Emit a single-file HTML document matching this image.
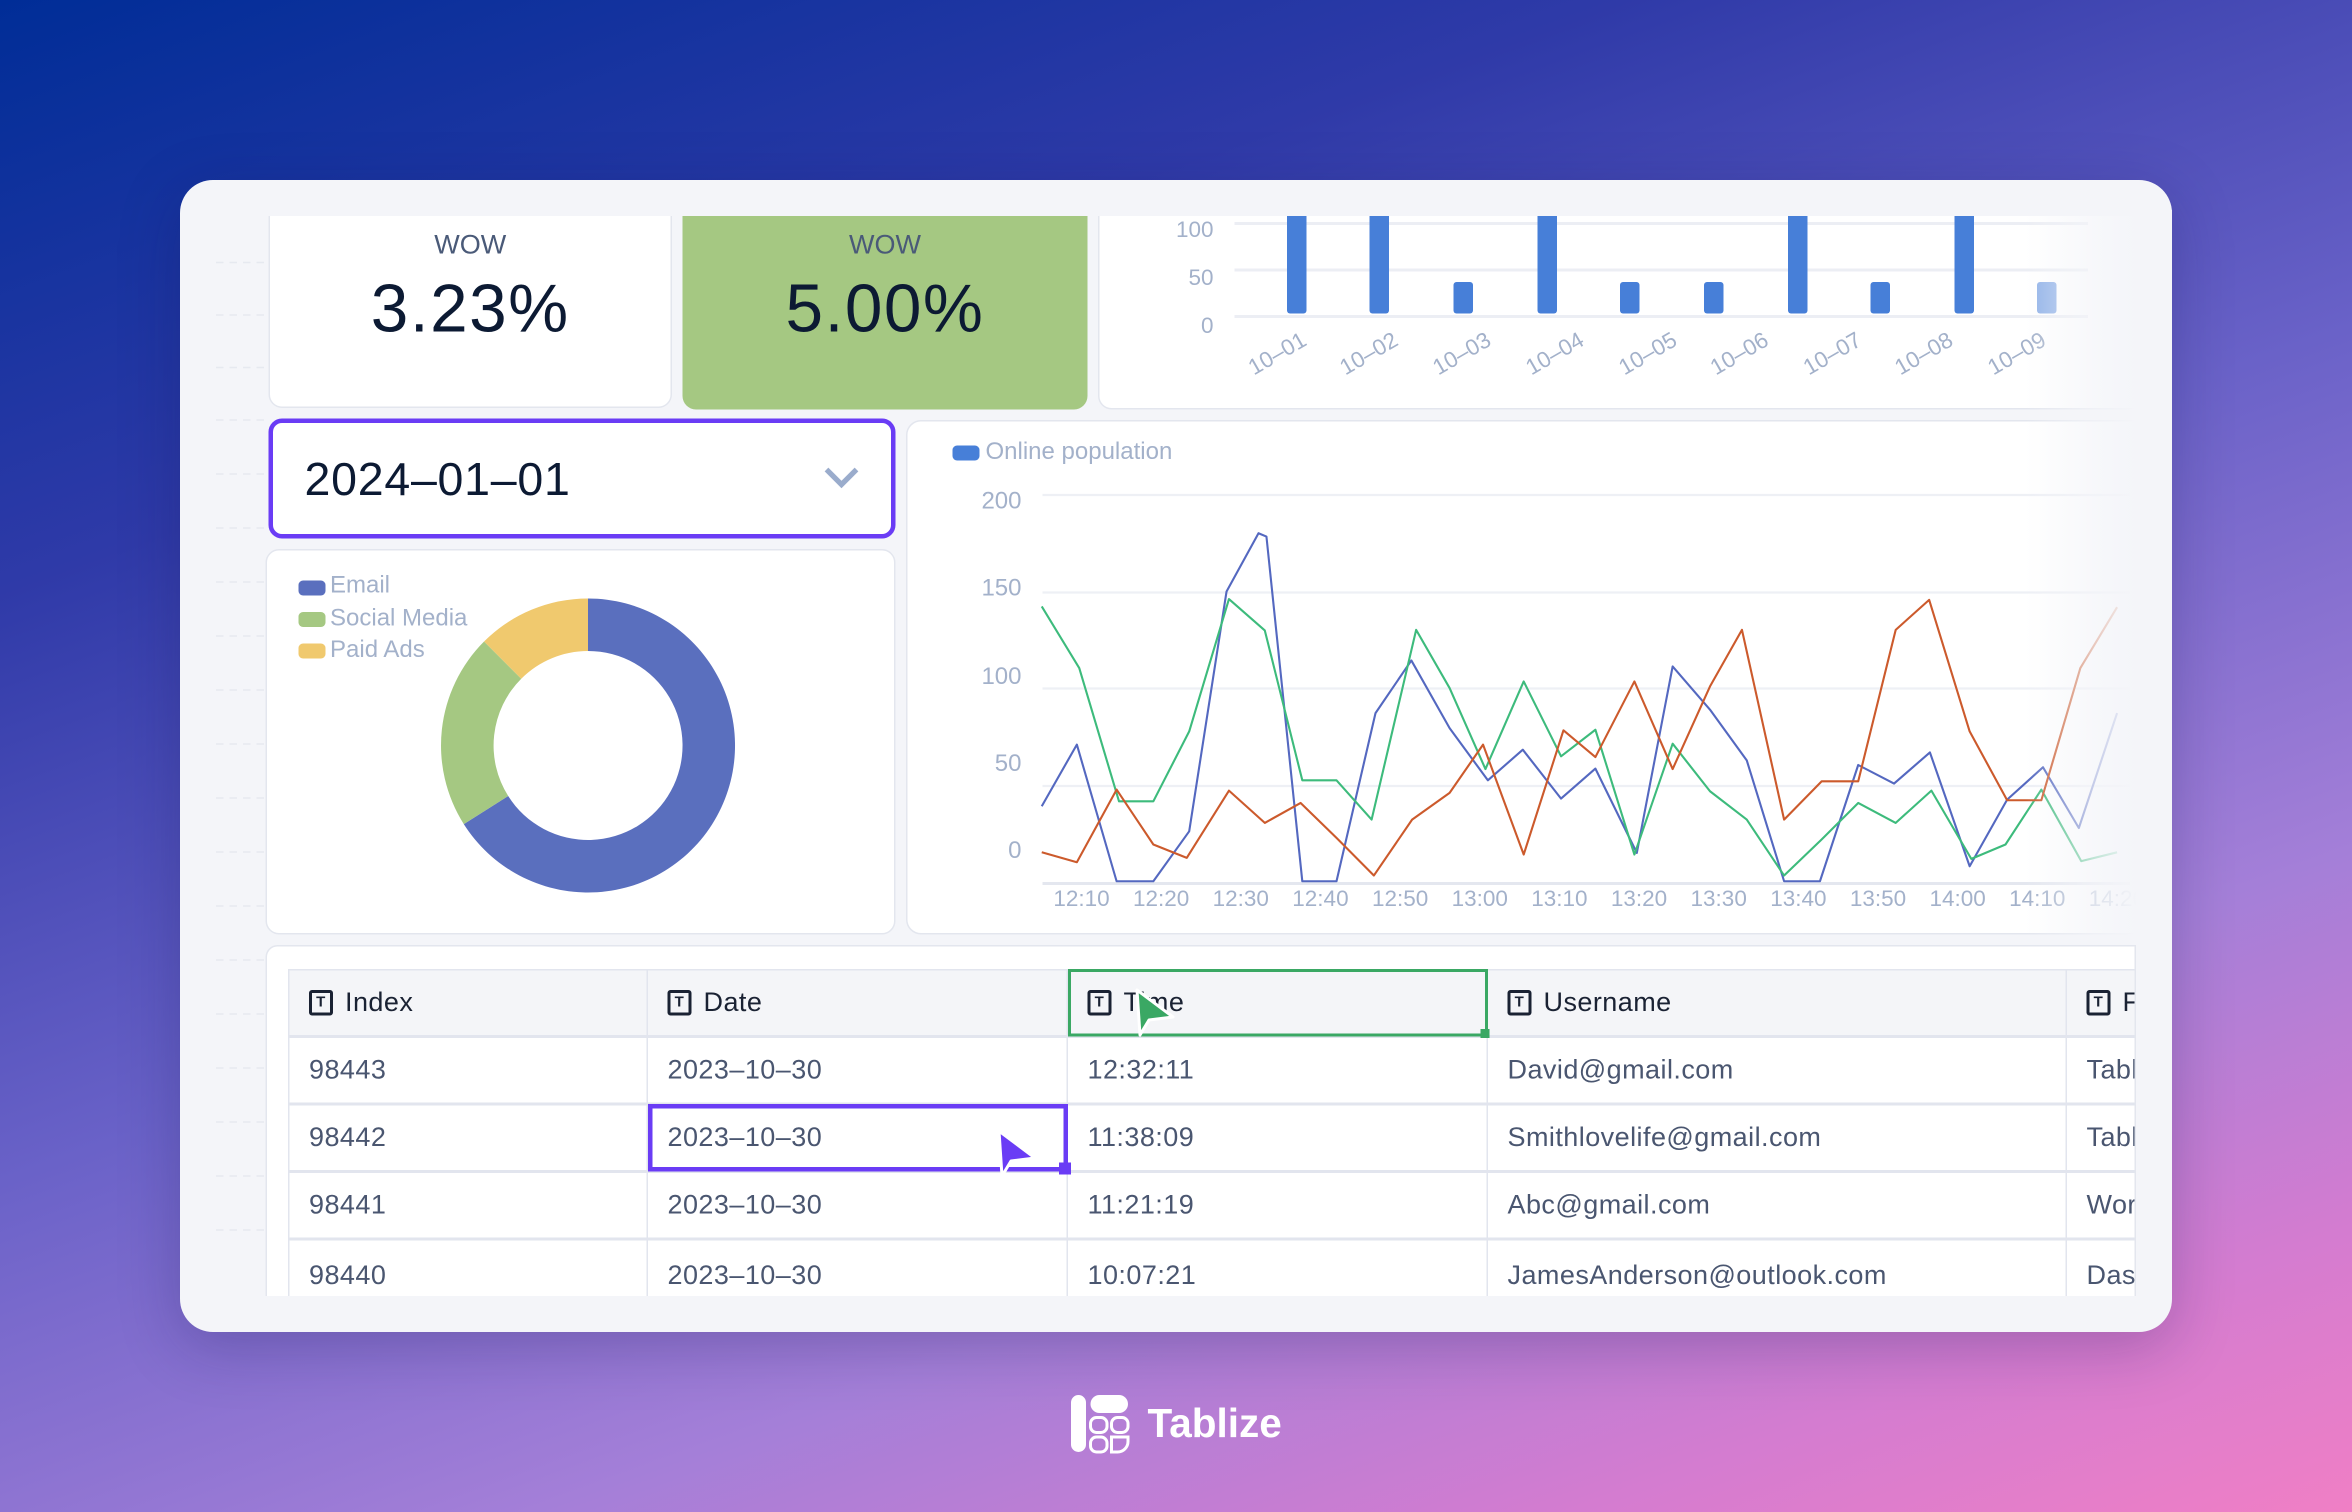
<!DOCTYPE html>
<html><head><meta charset="utf-8">
<style>
html,body{margin:0;padding:0;width:2352px;height:1512px;overflow:hidden}
body{font-family:"Liberation Sans",sans-serif}
#root{position:absolute;left:0;top:0;width:1568px;height:1008px;transform:scale(1.5);transform-origin:0 0;
background:linear-gradient(160deg,#002d97 0%,#2f3aa8 25%,#6a62c8 50%,#a47fd8 72%,#d47cd0 88%,#f07fc5 100%);overflow:hidden}
.abs{position:absolute}
.card{position:absolute;left:120px;top:120px;width:1328px;height:768px;background:#f4f5f9;border-radius:22px;box-shadow:0 10px 40px rgba(20,20,80,.25);overflow:hidden}
.w{position:absolute;background:#fff;border:1px solid #e3e6ee;box-sizing:border-box}
.lbl{color:#a3b1ca;font-size:15px;position:absolute;white-space:nowrap}
.cell{position:absolute;box-sizing:border-box;border-right:1px solid #e2e5ee;border-bottom:2px solid #e2e5ee;font-size:18px;color:#4a5670;padding-left:13px;display:flex;align-items:center;white-space:nowrap;overflow:hidden;letter-spacing:.3px}
.hd{background:#f4f5f8;color:#1a2233}
.ic{display:inline-block;width:12px;height:13px;border:2px solid #1a2233;border-radius:2px;margin-right:8px;font-size:10px;line-height:13px;text-align:center;font-weight:bold;box-sizing:content-box}
</style></head><body>
<div id="root">
<div class="card">
 <svg class="abs" style="left:0;top:0" width="60" height="768">
  <g stroke="#e6e9f0" stroke-dasharray="5 4" stroke-width="1">
   <line x1="24" y1="55" x2="58" y2="55"/><line x1="24" y1="90" x2="58" y2="90"/><line x1="24" y1="125" x2="58" y2="125"/><line x1="24" y1="160" x2="58" y2="160"/><line x1="24" y1="196" x2="58" y2="196"/><line x1="24" y1="232" x2="58" y2="232"/><line x1="24" y1="268" x2="58" y2="268"/><line x1="24" y1="304" x2="58" y2="304"/><line x1="24" y1="340" x2="58" y2="340"/><line x1="24" y1="376" x2="58" y2="376"/><line x1="24" y1="412" x2="58" y2="412"/><line x1="24" y1="448" x2="58" y2="448"/><line x1="24" y1="484" x2="58" y2="484"/><line x1="24" y1="520" x2="58" y2="520"/><line x1="24" y1="556" x2="58" y2="556"/><line x1="24" y1="592" x2="58" y2="592"/><line x1="24" y1="628" x2="58" y2="628"/><line x1="24" y1="664" x2="58" y2="664"/><line x1="24" y1="700" x2="58" y2="700"/>
  </g>
 </svg>
</div>

<div class="w" style="left:179px;top:144px;width:269px;height:128px;border-top:none;border-radius:0 0 9px 9px"></div>
<div class="abs" style="left:179px;top:153px;width:269px;text-align:center;font-size:18px;color:#4a5a78">WOW</div>
<div class="abs" style="left:179px;top:180px;width:269px;text-align:center;font-size:45px;color:#0c1a33;letter-spacing:1px">3.23%</div>
<div class="abs" style="left:455px;top:144px;width:270px;height:129px;background:#a5c882;border-radius:0 0 9px 9px"></div>
<div class="abs" style="left:455px;top:153px;width:270px;text-align:center;font-size:18px;color:#4a5a78">WOW</div>
<div class="abs" style="left:455px;top:180px;width:270px;text-align:center;font-size:45px;color:#0c1a33;letter-spacing:1px">5.00%</div>

<div class="w" style="left:732px;top:144px;width:700px;height:129px;border-top:none;border-radius:0 0 9px 9px"></div>
<svg class="abs" style="left:732px;top:144px" width="700" height="129">
 <g stroke="#eceef4" stroke-width="2"><line x1="91" y1="5" x2="660" y2="5"/><line x1="91" y1="36" x2="660" y2="36"/><line x1="91" y1="67" x2="660" y2="67"/></g>
 <g fill="#a3b1ca" font-size="15" text-anchor="end" font-family="Liberation Sans"><text x="77" y="14">100</text><text x="77" y="46">50</text><text x="77" y="78">0</text></g>
 <g fill="#477fd8">
  <rect x="126" y="-5" width="13" height="70" rx="2"/><rect x="181" y="-5" width="13" height="70" rx="2"/>
  <rect x="237" y="44" width="13" height="21" rx="2"/><rect x="293" y="-5" width="13" height="70" rx="2"/>
  <rect x="348" y="44" width="13" height="21" rx="2"/><rect x="404" y="44" width="13" height="21" rx="2"/>
  <rect x="460" y="-5" width="13" height="70" rx="2"/><rect x="515" y="44" width="13" height="21" rx="2"/>
  <rect x="571" y="-5" width="13" height="70" rx="2"/><rect x="626" y="44" width="13" height="21" rx="2" opacity=".6"/>
 </g>
 <g fill="#a3b1ca" font-size="15" font-family="Liberation Sans" text-anchor="middle">
  <text transform="translate(122,96) rotate(-30)">10–01</text><text transform="translate(183,96) rotate(-30)">10–02</text>
  <text transform="translate(245,96) rotate(-30)">10–03</text><text transform="translate(307,96) rotate(-30)">10–04</text>
  <text transform="translate(369,96) rotate(-30)">10–05</text><text transform="translate(430,96) rotate(-30)">10–06</text>
  <text transform="translate(492,96) rotate(-30)">10–07</text><text transform="translate(553,96) rotate(-30)">10–08</text>
  <text transform="translate(615,96) rotate(-30)">10–09</text>
 </g>
</svg>

<div class="abs" style="left:179px;top:279px;width:418px;height:80px;border:3px solid #6a3cf5;border-radius:9px;box-sizing:border-box;background:#fff"></div>
<div class="abs" style="left:203px;top:302px;font-size:31px;color:#0c1a33;letter-spacing:.5px">2024–01–01</div>
<svg class="abs" style="left:548px;top:309px" width="26" height="18"><polyline points="3,4 13,14 23,4" fill="none" stroke="#9aaccc" stroke-width="3.5"/></svg>

<div class="w" style="left:177px;top:366px;width:420px;height:257px;border-radius:9px"></div>
<div class="abs" style="left:199px;top:387px;width:18px;height:10px;border-radius:3px;background:#5a6fbe"></div>
<div class="abs" style="left:199px;top:408px;width:18px;height:10px;border-radius:3px;background:#a5c882"></div>
<div class="abs" style="left:199px;top:429px;width:18px;height:10px;border-radius:3px;background:#f0c96e"></div>
<div class="lbl" style="left:220px;top:382px;font-size:16px">Email</div>
<div class="lbl" style="left:220px;top:404px;font-size:16px">Social Media</div>
<div class="lbl" style="left:220px;top:425px;font-size:16px">Paid Ads</div>
<svg class="abs" style="left:292px;top:397px" width="200" height="200">
 <g transform="translate(100,100)">
  <path d="M0,-98 A98,98 0 1 1 -82.8,52.4 L-53.2,33.7 A63,63 0 1 0 0,-63 Z" fill="#5a6fbe"/>
  <path d="M-82.8,52.4 A98,98 0 0 1 -69.3,-69.3 L-44.5,-44.5 A63,63 0 0 0 -53.2,33.7 Z" fill="#a5c882"/>
  <path d="M-69.3,-69.3 A98,98 0 0 1 0,-98 L0,-63 A63,63 0 0 0 -44.5,-44.5 Z" fill="#f0c96e"/>
 </g>
</svg>

<div class="w" style="left:604px;top:280px;width:830px;height:343px;border-radius:10px"></div>
<div class="abs" style="left:635px;top:297px;width:18px;height:10px;border-radius:3px;background:#477fd8"></div>
<div class="lbl" style="left:657px;top:293px;font-size:16px">Online population</div>
<svg id="lc" class="abs" style="left:0;top:0" width="1568" height="1008"></svg>

<div class="abs" style="left:1350px;top:140px;width:75px;height:486px;background:linear-gradient(90deg,rgba(244,245,249,0),rgba(244,245,249,.7) 60%,#f4f5f9)"></div>
<div class="abs" style="left:1424px;top:140px;width:24px;height:724px;background:#f4f5f9"></div>

<div class="abs" style="left:177px;top:630px;width:1247px;height:234px;background:#fff;border:1px solid #e3e6ee;border-bottom:none;box-sizing:border-box;border-radius:8px 0 0 0;overflow:hidden">
 <div id="tb" style="position:absolute;left:14px;top:15px;width:1300px;height:260px"></div>
</div>
<div class="abs" style="left:712px;top:646px;width:280px;height:45px;border:2px solid #3aa864;box-sizing:border-box"></div>
<div class="abs" style="left:987px;top:686px;width:6px;height:6px;background:#3aa864"></div>
<svg class="abs" style="left:752px;top:658px" width="34" height="34"><path d="M6,2 L30,20 L14,22 L8,32 Z" fill="#3aa864" stroke="#fff" stroke-width="2" stroke-linejoin="round"/></svg>
<div class="abs" style="left:432px;top:736px;width:280px;height:45px;border:3px solid #6a3cf5;box-sizing:border-box"></div>
<div class="abs" style="left:706px;top:775px;width:8px;height:8px;background:#6a3cf5"></div>
<svg class="abs" style="left:660px;top:752px" width="34" height="34"><path d="M6,2 L30,20 L14,22 L8,32 Z" fill="#6a3cf5" stroke="#fff" stroke-width="2" stroke-linejoin="round"/></svg>

<svg class="abs" style="left:712px;top:928px" width="44" height="42">
 <rect x="2" y="2" width="10" height="38" rx="5" fill="#fff"/>
 <rect x="15" y="2" width="25" height="12" rx="6" fill="#fff"/>
 <g fill="none" stroke="#fff" stroke-width="2"><rect x="15" y="17" width="11" height="10" rx="4"/><rect x="29" y="17" width="11" height="10" rx="4"/><rect x="15" y="30" width="11" height="10" rx="4"/><path d="M29,30 H40 V33 A7,7 0 0 1 33,40 H29 Z"/></g>
</svg>
<div class="abs" style="left:765px;top:934px;font-size:27px;font-weight:bold;color:#fff">Tablize</div>
</div>

<script>
(function(){
 var ns="http://www.w3.org/2000/svg",s=document.getElementById('lc');
 function el(t,a,txt){var e=document.createElementNS(ns,t);for(var k in a)e.setAttribute(k,a[k]);if(txt!=null)e.textContent=txt;s.appendChild(e);return e;}
 [330,395,459,524,589].forEach(function(y,i){el('line',{x1:695,y1:y,x2:1420,y2:y,stroke:i==4?'#e4e7ef':'#eef0f5','stroke-width':i==4?2:1.5});});
 [['200',339],['150',397],['100',456],['50',514],['0',572]].forEach(function(l){el('text',{x:681,y:l[1],'text-anchor':'end',fill:'#a3b1ca','font-size':16,'font-family':'Liberation Sans'},l[0]);});
 var xl=['12:10','12:20','12:30','12:40','12:50','13:00','13:10','13:20','13:30','13:40','13:50','14:00','14:10','14:20'];
 xl.forEach(function(t,i){el('text',{x:721+53.1*i,y:604,'text-anchor':'middle',fill:'#a3b1ca','font-size':15,'font-family':'Liberation Sans'},t);});
 function P(a){return a.map(function(p){return (600+p[0]*0.531).toFixed(1)+','+(280+p[1]*0.222).toFixed(1);}).join(' ');}
 var B=[[178,1160],[222,975],[272,1385],[318,1385],[363,1235],[410,515],[450,340],[460,350],[505,1385],[548,1385],[597,880],[642,722],[690,925],[738,1082],[782,990],[830,1137],[873,1047],[925,1300],[970,740],[1017,870],[1063,1022],[1110,1385],[1155,1385],[1203,1036],[1248,1092],[1293,998],[1343,1340],[1390,1140],[1435,1043],[1480,1225],[1528,880]];
 var G=[[178,560],[225,745],[275,1145],[318,1145],[363,935],[413,538],[458,632],[505,1082],[548,1082],[592,1200],[648,630],[690,805],[735,1048],[783,785],[830,1010],[873,930],[922,1305],[970,972],[1017,1115],[1063,1200],[1110,1368],[1157,1260],[1203,1150],[1250,1210],[1295,1113],[1345,1318],[1388,1275],[1433,1110],[1483,1325],[1528,1298]];
 var O=[[178,1298],[222,1328],[272,1110],[318,1275],[360,1315],[413,1113],[458,1210],[503,1150],[548,1255],[595,1368],[643,1200],[690,1120],[732,975],[783,1305],[833,932],[873,1012],[922,785],[970,1048],[1017,800],[1057,630],[1110,1200],[1157,1085],[1203,1085],[1250,630],[1292,540],[1343,935],[1390,1142],[1433,1142],[1482,745],[1528,562]];
 [[B,'#5468c0'],[G,'#3dbb7c'],[O,'#cc5a2c']].forEach(function(d){el('polyline',{points:P(d[0]),fill:'none',stroke:d[1],'stroke-width':1.4,'stroke-linejoin':'round'});});
 var tb=document.getElementById('tb'),cols=[0,240,520,800,1186,1300],rows=[0,46,91,136,181,230];
 var data=[['Index','Date','Time','Username','F'],['98443','2023–10–30','12:32:11','David@gmail.com','Table'],['98442','2023–10–30','11:38:09','Smithlovelife@gmail.com','Table'],['98441','2023–10–30','11:21:19','Abc@gmail.com','Work'],['98440','2023–10–30','10:07:21','JamesAnderson@outlook.com','Dash']];
 var h='';
 for(var r=0;r<5;r++)for(var c=0;c<5;c++){
  var txt=data[r][c];
  if(r==0)txt='<span class="ic">T</span>'+(c==2?'Ti&#8203;me':txt);
  h+='<div class="cell'+(r==0?' hd':'')+'" style="left:'+cols[c]+'px;top:'+rows[r]+'px;width:'+(cols[c+1]-cols[c])+'px;height:'+(rows[r+1]-rows[r])+'px;'+(c==0?'border-left:1px solid #e2e5ee;':'')+(r==0?'border-top:1px solid #e2e5ee;':'')+'">'+txt+'</div>';
 }
 tb.innerHTML=h;
})();
</script>
</body></html>
